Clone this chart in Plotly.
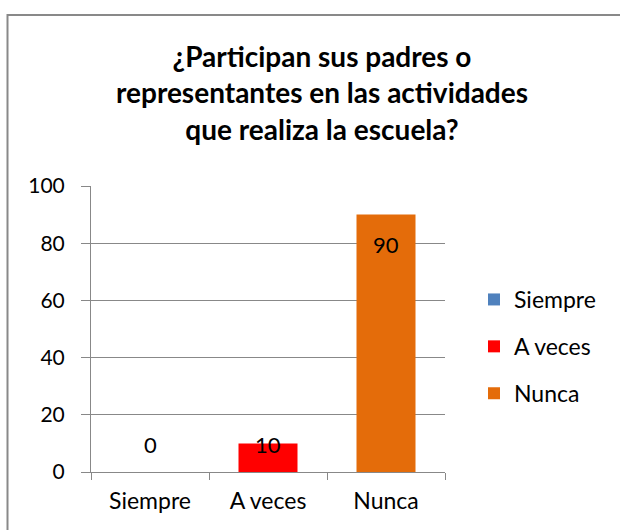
import plotly.graph_objects as go

categories = ["Siempre", "A veces", "Nunca"]
values = [0, 10, 90]
colors = ["#4F81BD", "#FF0000", "#E46C0A"]
y_ticks = [0, 20, 40, 60, 80, 100]
title_lines = ["¿Participan sus padres o", "representantes en las actividades", "que realiza la escuela?"]

FONT = "Lato, Calibri, sans-serif"
label_shift = [28, -1, -30]  # Excel "inside end" placement, px

fig = go.Figure()
for i, (cat, val, col) in enumerate(zip(categories, values, colors)):
    fig.add_trace(go.Bar(
        x=[cat], y=[val], name=cat, marker=dict(color=col, line=dict(width=0)),
        width=0.5, legendgroup=cat, hoverinfo="skip",
    ))
    fig.add_annotation(x=cat, y=val, text=str(val), showarrow=False,
                       yshift=label_shift[i], font=dict(family=FONT, size=22, color="#000"))

L, R, T, B = 91, 175, 186, 58
W, H = 620 - L - R, 530 - T - B

fig.update_layout(
    width=620, height=530,
    margin=dict(l=L, r=R, t=T, b=B),
    paper_bgcolor="white", plot_bgcolor="white",
    barmode="overlay",
    font=dict(family=FONT, size=22, color="#000"),
    title=dict(text="<br>".join(title_lines), x=322 / 620, xanchor="center", xref="container",
               y=1 - 67 / 530, yanchor="middle",
               font=dict(family=FONT, size=28, color="#000", weight="bold")),
    showlegend=True,
    legend=dict(x=(474 - L) / W, xanchor="left", y=(472 - 278) / H, yanchor="top",
                font=dict(family=FONT, size=23, color="#000"),
                tracegroupgap=14, itemwidth=30, bgcolor="rgba(0,0,0,0)"),
    xaxis=dict(type="category", categoryorder="array", categoryarray=categories,
               showline=True, linecolor="#888", linewidth=1,
               ticks="outside", tickson="boundaries", ticklen=7, tickcolor="#888",
               ticklabelstandoff=8,
               showgrid=False, tickfont=dict(family=FONT, size=23), range=[-0.5, 2.5]),
    yaxis=dict(range=[0, 100], tickvals=y_ticks, showline=True, linecolor="#888", linewidth=1,
               ticks="outside", ticklen=9, tickcolor="#888", ticklabelstandoff=12,
               showgrid=True, gridcolor="#888", gridwidth=1, zeroline=False,
               tickfont=dict(family=FONT, size=21)),
    shapes=[dict(type="rect", xref="paper", yref="paper",
                 x0=(7.5 - L) / W, x1=(640 - L) / W, y0=(472 - 560) / H, y1=(472 - 15) / H,
                 line=dict(color="#898989", width=2), fillcolor="rgba(0,0,0,0)", layer="below")],
)

fig.write_html("out.html", config={"displayModeBar": False},
               post_script="document.body.style.margin='0';")
